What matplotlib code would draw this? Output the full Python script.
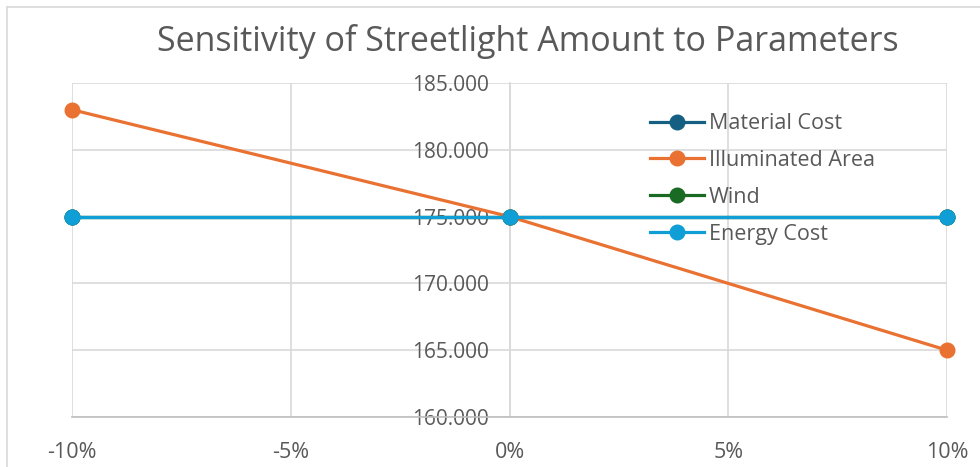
import matplotlib.pyplot as plt
from matplotlib.lines import Line2D
from matplotlib.ticker import FuncFormatter

plt.rcParams['font.family'] = ['Open Sans', 'DejaVu Sans']

# sensitivity steps and resulting streetlight amounts
changes = [-0.10, 0.0, 0.10]
material_cost = [175, 175, 175]
illuminated_area = [183, 175, 165]
wind = [175, 175, 175]
energy_cost = [175, 175, 175]

series_names = ["Material Cost", "Illuminated Area", "Wind", "Energy Cost"]
series_colors = ["#156082", "#E97132", "#196B24", "#0F9ED5"]
series_values = [material_cost, illuminated_area, wind, energy_cost]

x_ticks = [-0.10, -0.05, 0.0, 0.05, 0.10]
y_ticks = [160, 165, 170, 175, 180, 185]

fig = plt.figure(figsize=(9.8, 4.67), dpi=100)
ax = fig.add_axes([72 / 980, 1 - 417 / 467, 875 / 980, 334 / 467])

grid_c = "#D9D9D9"
text_c = "#595959"

for vals, name, col in zip(series_values, series_names, series_colors):
    ax.plot(changes, vals, color=col, lw=2.3, marker="o", markersize=10.5,
            label=name, zorder=3, clip_on=False)

ax.set_xlim(-0.10, 0.10)
ax.set_ylim(160, 185)
ax.set_xticks(x_ticks)
ax.set_yticks(y_ticks)
ax.xaxis.set_major_formatter(FuncFormatter(lambda v, _: f"{v * 100:.0f}%"))
ax.yaxis.set_major_formatter(FuncFormatter(lambda v, _: f"{v:.3f}"))

ax.grid(True, color=grid_c, lw=1.2, zorder=0)
for side in ["top", "right"]:
    ax.spines[side].set_visible(False)
ax.spines["left"].set_position(("data", 0))
ax.spines["left"].set_color(grid_c)
ax.spines["left"].set_linewidth(1.2)
ax.spines["bottom"].set_color("#BFBFBF")
ax.spines["bottom"].set_linewidth(1.2)

ax.tick_params(axis="x", length=0, pad=18, labelsize=15.5, labelcolor=text_c)
ax.tick_params(axis="y", length=0, pad=15, labelsize=15, labelcolor=text_c)
for lbl in ax.get_yticklabels():
    lbl.set_zorder(2)

handles = [Line2D([0], [0], color=c, lw=2.3, marker="o", markersize=10.5)
           for c in series_colors]
leg = ax.legend(handles, series_names, loc="upper left",
                bbox_to_anchor=(0.661, 0.91), frameon=False,
                fontsize=15.5, labelcolor=text_c, handlelength=2.5,
                handletextpad=0.22, labelspacing=0.74, borderpad=0,
                borderaxespad=0)

fig.text(0.539, 0.912, "Sensitivity of Streetlight Amount to Parameters",
         ha="center", va="center", fontsize=24.5, color=text_c)

# chart frame edges
fig.add_artist(Line2D([7 / 980, 1], [1 - 7 / 467, 1 - 7 / 467],
                      color="#D9D9D9", lw=1.2, transform=fig.transFigure))
fig.add_artist(Line2D([7 / 980, 7 / 980], [0, 1 - 7 / 467],
                      color="#D9D9D9", lw=1.2, transform=fig.transFigure))

fig.savefig("out.png", dpi=100)
